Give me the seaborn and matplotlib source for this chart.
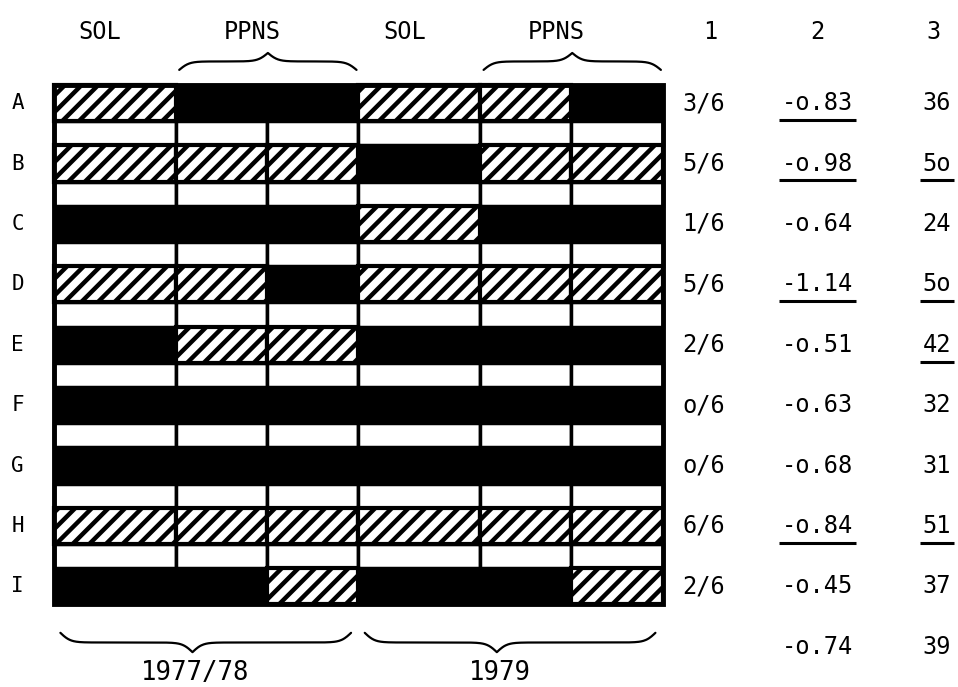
import numpy as np
import matplotlib
matplotlib.use("Agg")
import matplotlib.pyplot as plt
from matplotlib.patches import Rectangle
import seaborn as sns

# ---------------- data ----------------
rows = ["A", "B", "C", "D", "E", "F", "G", "H", "I"]
columns = ["SOL", "PPNS", "PPNS", "SOL", "PPNS", "PPNS"]
years = ["1977/78", "1979"]
# H = hatched cell, B = solid black cell
patterns = ["HBBHHB", "HHHBHH", "BBBHBB", "HHBHHH", "BHHBBB",
            "BBBBBB", "BBBBBB", "HHHHHH", "BBHBBH"]
stat_headers = ["1", "2", "3"]
col1 = ["3/6", "5/6", "1/6", "5/6", "2/6", "o/6", "o/6", "6/6", "2/6"]
col2 = ["-o.83", "-o.98", "-o.64", "-1.14", "-o.51", "-o.63", "-o.68", "-o.84", "-o.45"]
col3 = ["36", "5o", "24", "5o", "42", "32", "31", "51", "37"]
col2_total = "-o.74"
col3_total = "39"
underline2 = [True, True, False, True, False, False, False, True, False]
underline3 = [False, True, False, True, True, False, False, True, False]

# ---------------- style ----------------
sns.set_theme(style="white")
plt.rcParams["font.family"] = ["DejaVu Sans Mono", "DejaVu Sans"]
plt.rcParams["text.color"] = "black"
plt.rcParams["hatch.linewidth"] = 3.2

fig = plt.figure(figsize=(9.58, 6.87), dpi=100)
ax = fig.add_axes([0, 0, 1, 1])
PX_X, PX_Y = 91.4, 60.4
ax.set_xlim(-54 / PX_X, (958 - 54) / PX_X)
ax.set_ylim((687 - 85) / PX_Y, -85 / PX_Y)
ax.set_axis_off()

col_w = np.array([1.33 if c == "SOL" else 1.0 for c in columns])
col_l = np.concatenate([[0.0], np.cumsum(col_w)[:-1]])
total_w = col_w.sum()
n = len(rows)
BAND = 0.6

for i, pat in enumerate(patterns):
    for j, p in enumerate(pat):
        if p == "H":
            ax.barh(i + BAND / 2, col_w[j], left=col_l[j], height=BAND,
                    color="white", edgecolor="black", hatch="//",
                    linewidth=3.0, zorder=3)
        else:
            ax.barh(i + BAND / 2, col_w[j], left=col_l[j], height=BAND,
                    color="black", edgecolor="black", linewidth=1, zorder=3)
    if i < n - 1:
        for j in range(len(columns)):
            ax.barh(i + BAND + (1 - BAND) / 2, col_w[j], left=col_l[j],
                    height=1 - BAND, color="white", edgecolor="black",
                    linewidth=2.5, zorder=2)

ax.add_patch(Rectangle((0, 0), total_w, n - 1 + BAND, fill=False,
                       edgecolor="black", linewidth=3.5, zorder=5))


def brace(x0, x1, xtip, y_end, y_tip, beta=18):
    xa = np.linspace(x0, xtip, 200)
    ha = 1 / (1 + np.exp(-beta * (xa - x0))) + 1 / (1 + np.exp(-beta * (xa - xtip))) - 0.5
    xb = np.linspace(xtip, x1, 200)
    hb = 1 / (1 + np.exp(beta * (xb - x1))) + 1 / (1 + np.exp(beta * (xb - xtip))) - 0.5
    xs = np.concatenate([xa, xb])
    hs = np.concatenate([ha, hb])
    hs = (hs - hs.min()) / (hs.max() - hs.min())
    ax.plot(xs, y_end + (y_tip - y_end) * hs, color="black", lw=1.6,
            solid_capstyle="round", zorder=4)


HEAD_Y = -0.877
FS = 17
# column headers
for j, c in enumerate(columns):
    if c == "SOL":
        ax.text(col_l[j] + col_w[j] / 2 - 0.16, HEAD_Y, c, ha="center",
                va="center", fontsize=FS)
    elif j > 0 and columns[j - 1] != "PPNS":
        ax.text(col_l[j] + col_w[j] - 0.16, HEAD_Y, c, ha="center",
                va="center", fontsize=FS)
        x0 = col_l[j] + 0.04
        x1 = col_l[j + 1] + col_w[j + 1] - 0.02
        brace(x0, x1, (x0 + x1) / 2, -0.25, -0.53)

stat_x = [7.11, 8.35, 9.66]
for k, h in enumerate(stat_headers):
    ax.text(stat_x[k] + (0.07 if k == 0 else (-0.04 if k == 2 else 0)),
            HEAD_Y, h, ha="center", va="center", fontsize=FS)

# row labels and statistics
texts2, texts3 = [], []
for i, r in enumerate(rows):
    yc = i + BAND / 2
    ax.text(-0.40, yc, r, ha="center", va="center", fontsize=15)
    ax.text(stat_x[0], yc, col1[i], ha="center", va="center", fontsize=FS)
    texts2.append(ax.text(stat_x[1], yc, col2[i], ha="center", va="center", fontsize=FS))
    texts3.append(ax.text(stat_x[2], yc, col3[i], ha="center", va="center", fontsize=FS))
ax.text(stat_x[1], n + BAND / 2, col2_total, ha="center", va="center", fontsize=FS)
ax.text(stat_x[2], n + BAND / 2, col3_total, ha="center", va="center", fontsize=FS)

# year braces and labels
for g, yr in enumerate(years):
    gl = col_l[3 * g]
    gr = col_l[3 * g + 2] + col_w[3 * g + 2]
    x0, x1 = gl + 0.07, gr - 0.08
    mid = (gl + gr) / 2
    brace(x0, x1, mid - 0.15, 9.07, 9.39)
    ax.text(mid - 0.12, 9.73, yr, ha="center", va="center", fontsize=18.5)

# underlines
fig.canvas.draw()
renderer = fig.canvas.get_renderer()
inv = ax.transData.inverted()
for flags, tl in ((underline2, texts2), (underline3, texts3)):
    for i, (f, t) in enumerate(zip(flags, tl)):
        if f:
            bb = t.get_window_extent(renderer)
            xa, _ = inv.transform((bb.x0, bb.y0))
            xb, _ = inv.transform((bb.x1, bb.y0))
            yline = i + BAND / 2 + 0.28
            ax.plot([xa - 0.03, xb + 0.03], [yline, yline], color="black",
                    lw=2.2, solid_capstyle="butt")

fig.savefig("out.png", dpi=100, facecolor="white")
